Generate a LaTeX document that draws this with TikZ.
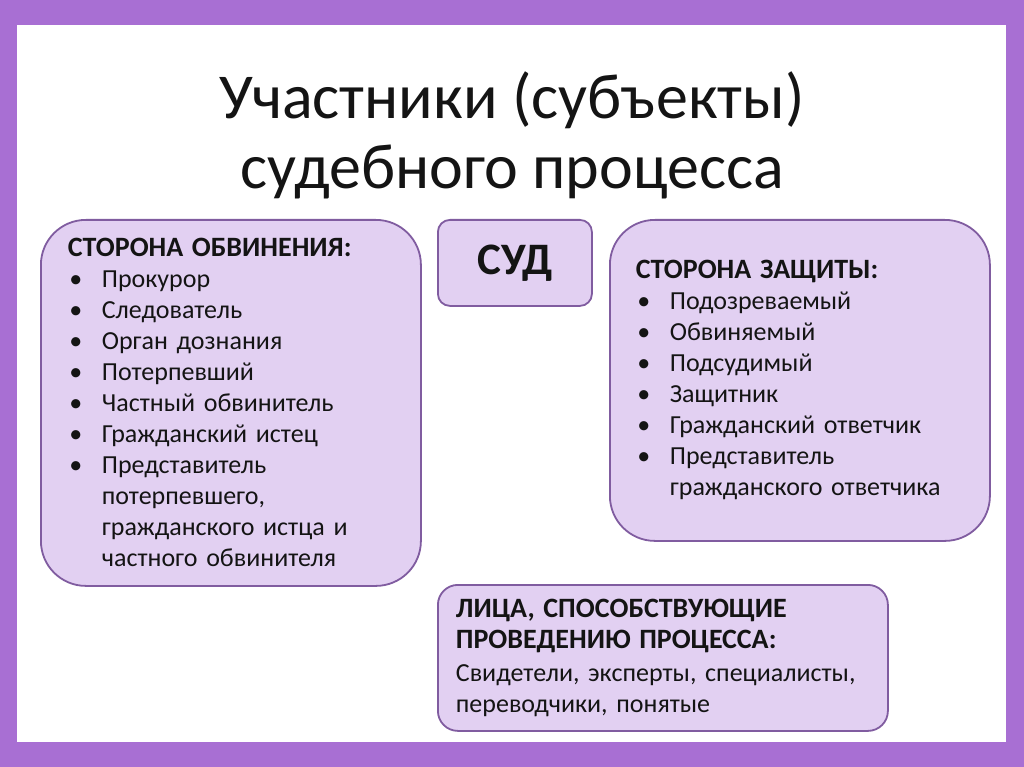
\documentclass[tikz,border=0pt]{standalone}
\usepackage{fontspec}
\setmainfont{Carlito}
\usepackage{xcolor}
\definecolor{slideframe}{RGB}{168,111,211}
\definecolor{panelfill}{RGB}{226,208,242}
\definecolor{paneldraw}{RGB}{128,92,160}
\definecolor{slidetext}{RGB}{20,20,20}
\usetikzlibrary{positioning}
\newcommand{\bul}{\makebox[34pt][l]{\hspace*{8pt}\makebox[0pt][c]{•}}}
\newcommand{\cont}{\hspace*{34pt}}
\newcommand{\hdr}[1]{{\fontsize{28}{31}\selectfont\bfseries #1}}

\tikzset{
  panel/.style={draw=paneldraw, line width=1.8pt, fill=panelfill, anchor=north west,
    align=left, text=slidetext, font=\fontsize{26}{31}\selectfont},
}

\begin{document}
\begin{tikzpicture}[x=1pt, y=-1pt]
  \useasboundingbox (0,0) rectangle (1024,767);

  %--- frame ---
  \fill[slideframe] (0,0) rectangle (1024,767);
  \fill[white] (17,25) rectangle (1006,742);

  \node[font=\fontsize{64}{70}\selectfont, align=center, text=slidetext] (title) at (512,135)
    {Участники (субъекты)\\судебного процесса};

  %--- prosecution side ---
  \node[panel, rounded corners=45pt, minimum width=380pt, minimum height=366pt,
    text width=326pt, inner xsep=27pt] (prosec) at (40,219)
    {\hdr{СТОРОНА ОБВИНЕНИЯ:}\\
     \bul Прокурор\\
     \bul Следователь\\
     \bul Орган дознания\\
     \bul Потерпевший\\
     \bul Частный обвинитель\\
     \bul Гражданский истец\\
     \bul Представитель\\
     \cont потерпевшего,\\
     \cont гражданского истца и\\
     \cont частного обвинителя};

  %--- court ---
  \node[panel, rounded corners=12pt, minimum width=154pt, minimum height=86pt,
    align=center, font=\fontsize{45}{48}\selectfont\bfseries] (court) at (437,219) {СУД};

  %--- defence side ---
  \node[panel, rounded corners=45pt, minimum width=380pt, minimum height=321pt,
    text width=328pt, inner xsep=26pt] (defence) at (609,219)
    {\hdr{СТОРОНА ЗАЩИТЫ:}\\
     \bul Подозреваемый\\
     \bul Обвиняемый\\
     \bul Подсудимый\\
     \bul Защитник\\
     \bul Гражданский ответчик\\
     \bul Представитель\\
     \cont гражданского ответчика};

  %--- other participants ---
  \node[panel, rounded corners=20pt, minimum width=450pt, minimum height=146pt,
    text width=414pt, inner xsep=18pt] (assist) at (437,584)
    {\hdr{ЛИЦА, СПОСОБСТВУЮЩИЕ}\\
     \hdr{ПРОВЕДЕНИЮ ПРОЦЕССА:}\\[2pt]
     Свидетели, эксперты, специалисты,\\
     переводчики, понятые};
\end{tikzpicture}
\end{document}
